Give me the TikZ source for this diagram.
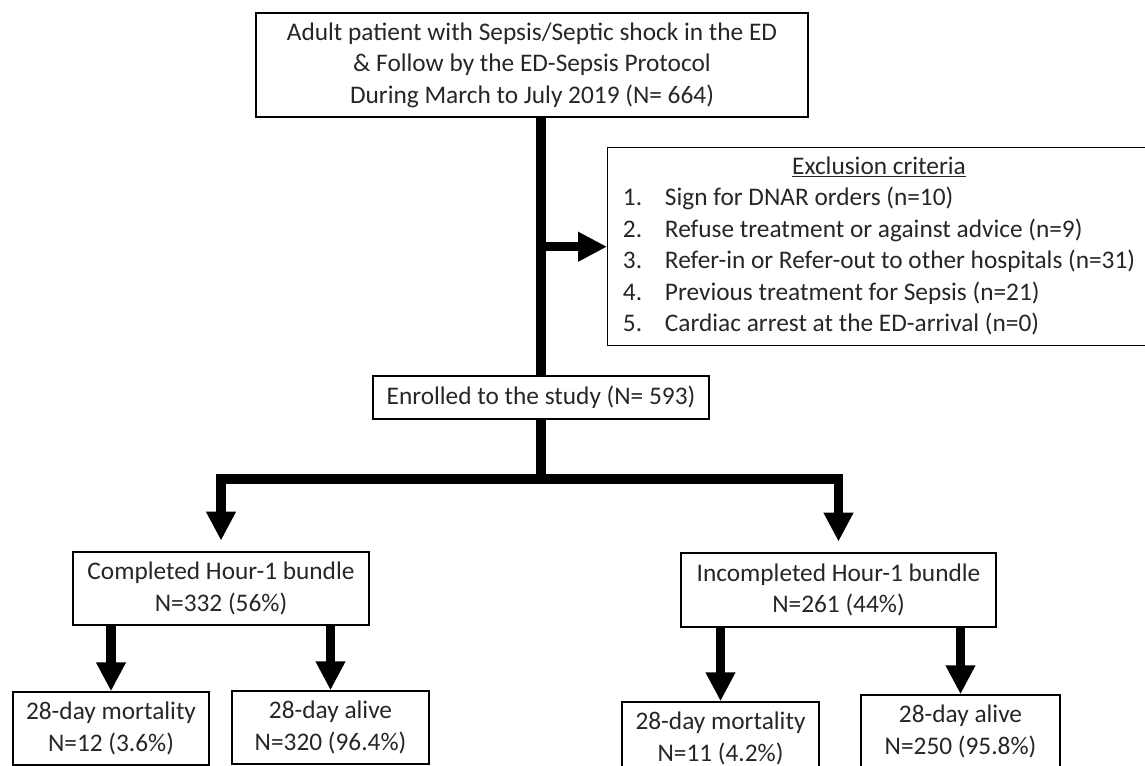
\documentclass[tikz,border=0pt]{standalone}
\usepackage{fontspec}
\setmainfont{Carlito}
\usepackage{xcolor}
\usepackage{tikz}
\usetikzlibrary{positioning,arrows.meta}
\tikzset{
  box/.style={draw=black, line width=1.1pt, text=black!85, align=center, inner sep=0pt, font=\fontsize{19}{23.6}\selectfont},
  fatline/.style={line width=7pt},
  fatarrow/.style={line width=7pt, -{Triangle[length=21.75pt,width=21pt]}}
}

\begin{document}
\begin{tikzpicture}[x=0.75pt, y=-0.75pt]
	\useasboundingbox (0,0) rectangle (1145,766);
	\clip (0,0) rectangle (1145,766);
	\node[box, minimum width=414pt, minimum height=78pt] (top) at (532,65) {Adult patient with Sepsis/Septic shock in the ED\\ \& Follow by the ED-Sepsis Protocol\\ During March to July 2019 (N= 664)};
	\node[box, anchor=north west, minimum width=407pt, minimum height=148.5pt] (excl) at (607,147) {%
		\begin{tabular}{@{}p{31.5pt}@{}l@{}}
			\multicolumn{2}{c}{\underline{Exclusion criteria}}\\
			1. & Sign for DNAR orders (n=10)\\
			2. & Refuse treatment or against advice (n=9)\\
			3. & Refer-in or Refer-out to other hospitals (n=31)\\
			4. & Previous treatment for Sepsis (n=21)\\
			5. & Cardiac arrest at the ED-arrival (n=0)
		\end{tabular}};
	\node[box, minimum width=252pt, minimum height=32.25pt] (enrolled) at (541,397.5) {Enrolled to the study (N= 593)};
	\node[box, minimum width=222pt, minimum height=54.75pt] (comp) at (221,588.5) {Completed Hour-1 bundle\\ N=332 (56\%)};
	\node[box, minimum width=236.25pt, minimum height=55.5pt] (incomp) at (838.5,590) {Incompleted Hour-1 bundle\\ N=261 (44\%)};
	\node[box, minimum width=147pt, minimum height=54.75pt] (mort1) at (111,728.5) {28-day mortality\\ N=12 (3.6\%)};
	\node[box, minimum width=147.75pt, minimum height=54.75pt] (alive1) at (330.5,727.5) {28-day alive\\ N=320 (96.4\%)};
	\node[box, minimum width=147.75pt, minimum height=54.75pt] (mort2) at (720.5,738.5) {28-day mortality\\ N=11 (4.2\%)};
	\node[box, minimum width=149.25pt, minimum height=54.75pt] (alive2) at (960.5,731.5) {28-day alive\\ N=250 (95.8\%)};

	\draw[fatline] (enrolled.north |- top.south) -- (enrolled.north);
	\draw[fatarrow] (enrolled.north |- excl.west) -- (excl.west);
	\coordinate (split) at (541,479);
	\draw[fatline] (enrolled.south) -- (split);
	\draw[fatarrow, shorten >=8pt] (split) -| (comp.north);
	\draw[fatarrow, shorten >=8pt] (split) -| (incomp.north);
	%\draw[fatline] (comp.south) -- (mort1.north);
	\draw[fatarrow] (mort1.north |- comp.south) -- (mort1.north);
	\draw[fatarrow] (alive1.north |- comp.south) -- (alive1.north);
	\draw[fatarrow] (mort2.north |- incomp.south) -- (mort2.north);
	\draw[fatarrow] (alive2.north |- incomp.south) -- (alive2.north);
\end{tikzpicture}
\end{document}
